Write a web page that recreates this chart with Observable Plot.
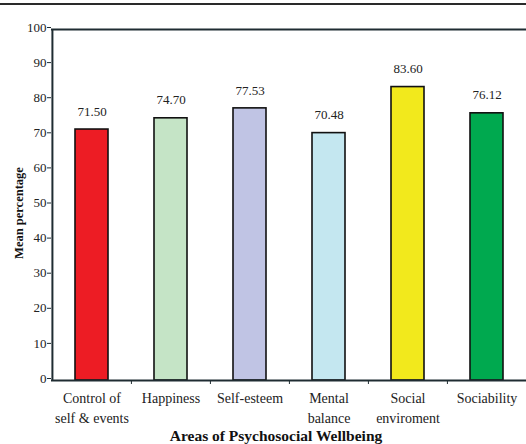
<!DOCTYPE html>
<html>
<head>
<meta charset="utf-8">
<script src="https://cdn.jsdelivr.net/npm/d3@7"></script>
<script src="https://cdn.jsdelivr.net/npm/@observablehq/plot@0.6"></script>
<style>
  body { margin: 0; background: #fff; }
  #chart { position: relative; width: 526px; height: 444px; overflow: hidden; }
  #chart svg { display: block; }
  #topline { position: absolute; left: 0; top: 3px; width: 526px; height: 2px; background: #2a2a2a; }
</style>
</head>
<body>
<div id="chart"><div id="topline"></div></div>
<script>
// Mean percentage by area of psychosocial wellbeing
const areas = ["Control of\nself & events", "Happiness", "Self-esteem", "Mental\nbalance", "Social\nenviroment", "Sociability"];
const means = [71.50, 74.70, 77.53, 70.48, 83.60, 76.12];
const fills = ["#ed1c24", "#c5e4c6", "#c0c4e4", "#c4e7f0", "#f2e91c", "#00a94f"];
const yTicks = [0, 10, 20, 30, 40, 50, 60, 70, 80, 90, 100];
const xTitle = "Areas of Psychosocial Wellbeing";
const yTitle = "Mean percentage";

const rows = areas.map((area, i) => ({area, mean: means[i], fill: fills[i]}));

const W = 526, H = 444;
const mL = 51, mR = 0, mT = 29, mB = 64;
const step = (W - mL - mR) / areas.length;
const ink = "#1f2c32";
const serif = "'Liberation Serif', 'Times New Roman', serif";

const chart = Plot.plot({
  width: W,
  height: H,
  marginLeft: mL,
  marginRight: mR,
  marginTop: mT,
  marginBottom: mB,
  style: {fontFamily: serif, fontSize: "13px", background: "transparent", color: "#222"},
  x: {domain: areas, padding: 0, label: null},
  y: {domain: [0, 100], label: null},
  marks: [
    Plot.barY(rows, {
      x: "area", y: "mean", fill: "fill",
      stroke: "#111", strokeWidth: 1.6,
      insetLeft: 23, insetRight: 23
    }),
    Plot.text(rows, {
      x: "area", y: "mean",
      text: d => d.mean.toFixed(2),
      dy: -18, fontSize: 13, fill: "#222"
    }),
    // frame: bottom, top and left edges
    Plot.ruleY([0, 100], {stroke: ink, strokeWidth: 2}),
    Plot.ruleX([areas[0]], {y1: 0, y2: 100, dx: -step / 2, stroke: ink, strokeWidth: 2}),
    Plot.axisY({
      ticks: yTicks, tickSize: 4, tickPadding: 1, dy: -2,
      tickFormat: d => d, label: null, fontSize: 13, stroke: ink
    }),
    Plot.axisX({tickSize: 0, tickPadding: 9, lineHeight: 1.4, label: null, fontSize: 14}),
    // separators between categories along the bottom edge
    Plot.axisX(areas.slice(1), {
      tickSize: 4, tickFormat: () => "", dx: -step / 2, label: null, stroke: ink
    }),
    Plot.text([xTitle], {
      frameAnchor: "bottom", dy: 60, dx: -13,
      fontWeight: "bold", fontSize: 15.5, fill: "#111"
    }),
    Plot.text([yTitle], {
      frameAnchor: "left", textAnchor: "middle", rotate: -90, dx: -33, dy: 8,
      fontWeight: "bold", fontSize: 12.5, fill: "#111"
    })
  ]
});

document.getElementById("chart").appendChild(chart);
</script>
</body>
</html>
